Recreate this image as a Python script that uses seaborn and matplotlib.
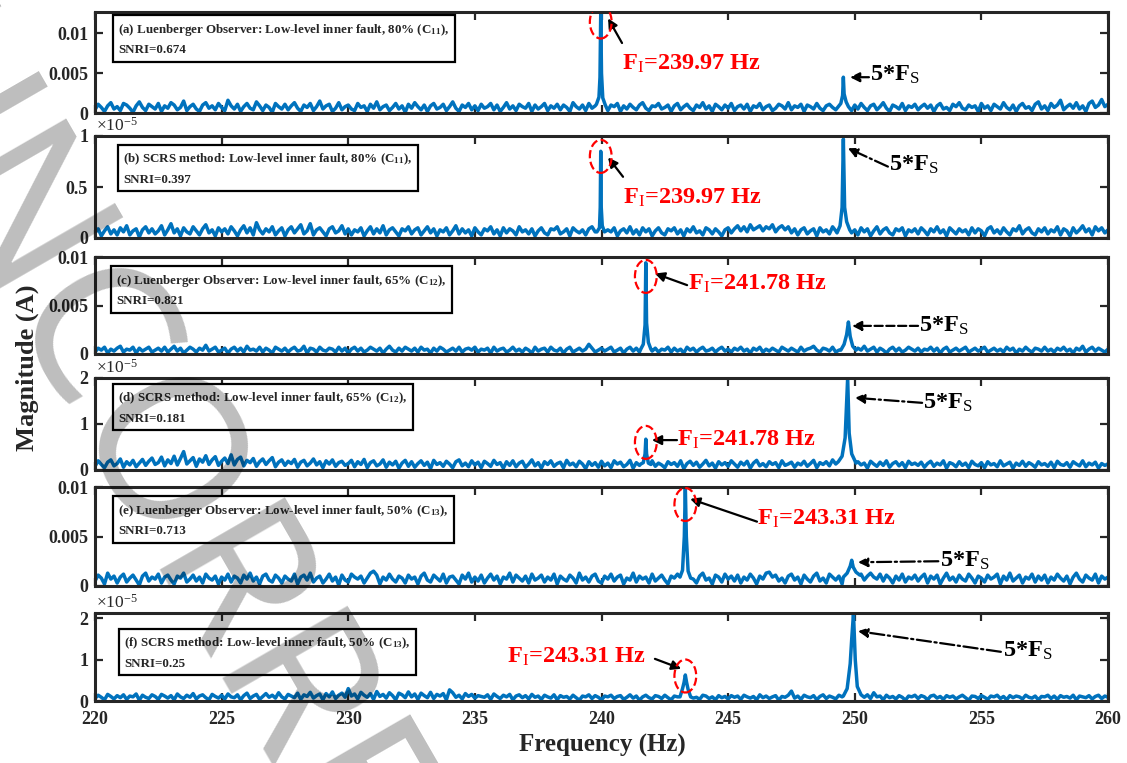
import numpy as np
import seaborn as sns
import matplotlib.pyplot as plt
from matplotlib.patches import Ellipse
from matplotlib.transforms import offset_copy

# ---- data ----
freq_start, freq_end = 220, 260

titles = ['(a) Luenberger Observer: Low-level inner fault, 80% (C$_{11}$),',
          '(b) SCRS method: Low-level inner fault, 80% (C$_{11}$),',
          '(c) Luenberger Observer: Low-level inner fault, 65% (C$_{12}$),',
          '(d) SCRS method: Low-level inner fault, 65% (C$_{12}$),',
          '(e) Luenberger Observer: Low-level inner fault, 50% (C$_{13}$),',
          '(f) SCRS method: Low-level inner fault, 50% (C$_{13}$),']
snri = ['0.674', '0.397', '0.821', '0.181', '0.713', '0.25']
fault_labels = ['239.97', '239.97', '241.78', '241.78', '243.31', '243.31']

# (a) Luenberger, 80 %  -- noise floor in 1e-4 A, 0.125 Hz steps
a_noise = [4, 11, 7, 2, 9, 13, 5, 8, 3, 12, 10, 6, 1, 9, 14, 7, 3, 11, 8, 5,
           12, 2, 9, 6, 13, 10, 4, 7, 15, 3, 8, 11, 5, 2, 10, 13, 6, 9, 4, 12,
           7, 3, 16, 9, 5, 11, 2, 8, 12, 6, 4, 14, 9, 3, 10, 7, 1, 12, 8, 5,
           11, 4, 9, 13, 6, 2, 10, 7, 12, 3, 8, 15, 5, 9, 11, 2, 6, 13, 4, 8,
           10, 5, 3, 12, 7, 9, 2, 11, 6, 14, 4, 8, 10, 3, 7, 12, 5, 9, 1, 11,
           6, 13, 8, 4, 10, 2, 9, 12, 5, 7, 11, 3, 8, 14, 6, 2, 10, 7, 12, 4,
           9, 3, 11, 6, 8, 12, 4, 10, 2, 7, 13, 5, 9, 3, 11, 8, 6, 12, 2, 10,
           5, 8, 12, 3, 9, 6, 11, 4, 10, 7, 2, 13, 8, 5, 10, 3, 12, 6, 9, 4,
           11, 6, 3, 10, 8, 12, 2, 9, 5, 11, 7, 4, 10, 13, 6, 3, 9, 8, 12, 5,
           7, 10, 2, 9, 12, 4, 8, 11, 6, 3, 10, 7, 13, 5, 9, 2, 11, 8, 4, 10,
           6, 12, 3, 8, 10, 5, 11, 2, 9, 7, 12, 4, 8, 10, 3, 6, 11, 9, 5, 13,
           4, 9, 7, 11, 2, 10, 8, 5, 12, 6, 3, 9, 11, 7, 4, 10, 13, 6, 8, 3,
           10, 5, 12, 7, 3, 9, 11, 4, 8, 13, 6, 2, 10, 8, 5, 12, 3, 9, 7, 11,
           4, 8, 11, 6, 10, 2, 9, 12, 5, 7, 3, 11, 8, 13, 6, 4, 10, 7, 9, 2,
           12, 6, 9, 3, 11, 8, 5, 13, 7, 4, 10, 2, 9, 12, 6, 8, 3, 11, 14, 5,
           9, 3, 12, 7, 10, 16, 4, 8, 11, 6, 13, 5, 9, 2, 12, 15, 7, 10, 17, 8,
           11]
a_fault_f = [239.80, 239.90, 239.94, 239.97, 240.00, 240.05, 240.15]
a_fault_v = [0.0011, 0.0020, 0.0045, 0.0127, 0.0050, 0.0019, 0.0010]
a_fs_f = [249.35, 249.45, 249.52, 249.55, 249.58, 249.66, 249.75]
a_fs_v = [0.0008, 0.0012, 0.0022, 0.0045, 0.0024, 0.0014, 0.0008]

# (b) SCRS, 80 %  -- noise floor in 0.01 x 1e-5
b_noise = [5, 9, 2, 7, 11, 4, 8, 3, 10, 6, 12, 3, 7, 9, 1, 8, 11, 5, 9, 4,
           7, 12, 3, 8, 14, 5, 9, 2, 10, 6, 4, 11, 7, 3, 9, 13, 5, 8, 2, 10,
           6, 9, 4, 11, 7, 2, 8, 12, 5, 10, 3, 15, 8, 4, 9, 6, 11, 3, 7, 10,
           2, 8, 11, 5, 9, 13, 4, 7, 14, 3, 8, 10, 6, 2, 9, 11, 5, 7, 12, 4,
           9, 3, 8, 6, 10, 2, 7, 11, 4, 9, 5, 12, 3, 8, 10, 6, 2, 9, 7, 11,
           4, 8, 10, 3, 7, 11, 5, 9, 2, 8, 6, 10, 3, 7, 12, 4, 9, 5, 8, 2,
           10, 6, 3, 9, 7, 11, 4, 8, 2, 10, 5, 9, 7, 3, 11, 6, 8, 4, 9, 2,
           7, 10, 5, 3, 9, 8, 11, 4, 6, 9, 2, 10, 7, 5, 8, 3, 9, 11, 6, 4,
           9, 3, 8, 6, 10, 2, 7, 9, 5, 11, 4, 8, 3, 10, 6, 9, 2, 7, 10, 5,
           3, 9, 7, 10, 4, 8, 2, 9, 6, 11, 5, 7, 3, 10, 8, 4, 9, 6, 2, 8,
           10, 5, 9, 12, 7, 11, 6, 13, 8, 10, 12, 7, 11, 9, 13, 6, 10, 12, 8, 11,
           5, 9, 3, 8, 10, 4, 7, 9, 2, 10, 6, 8, 4, 11, 7, 3, 9, 6, 10, 5,
           8, 3, 10, 6, 9, 2, 7, 11, 4, 8, 10, 5, 3, 9, 7, 10, 2, 8, 6, 9,
           4, 10, 7, 3, 9, 6, 11, 5, 8, 2, 10, 7, 4, 9, 6, 8, 3, 10, 5, 9,
           7, 2, 9, 11, 5, 8, 4, 10, 6, 3, 9, 7, 12, 4, 8, 10, 5, 3, 9, 6,
           10, 4, 8, 6, 11, 3, 9, 7, 2, 10, 5, 8, 12, 6, 9, 3, 11, 7, 10, 5,
           8]
b_fault_f = [239.82, 239.92, 239.95, 239.97, 239.99, 240.03, 240.12]
b_fault_v = [0.06, 0.10, 0.30, 0.85, 0.30, 0.12, 0.06]
b_fs_f = [249.30, 249.42, 249.50, 249.55, 249.60, 249.68, 249.80]
b_fs_v = [0.05, 0.12, 0.30, 0.97, 0.30, 0.16, 0.08]

# (c) Luenberger, 65 %  -- noise floor in 1e-4 A
c_noise = [2, 6, 4, 7, 1, 5, 3, 6, 8, 2, 5, 4, 7, 1, 6, 3, 5, 7, 2, 4,
           6, 3, 7, 2, 5, 8, 3, 6, 1, 4, 7, 5, 2, 6, 4, 9, 3, 5, 7, 2,
           4, 6, 1, 5, 7, 3, 6, 2, 8, 4, 5, 3, 7, 2, 6, 4, 1, 7, 5, 3,
           6, 2, 5, 7, 3, 4, 8, 1, 6, 5, 2, 7, 4, 3, 6, 5, 2, 7, 3, 6,
           1, 5, 7, 3, 6, 2, 4, 7, 5, 3, 6, 1, 5, 8, 4, 2, 6, 3, 7, 5,
           3, 6, 2, 7, 4, 5, 1, 6, 3, 7, 5, 2, 4, 6, 3, 7, 2, 5, 6, 4,
           7, 2, 5, 4, 6, 1, 7, 3, 5, 6, 2, 4, 7, 3, 5, 2, 6, 4, 1, 7,
           3, 5, 6, 2, 7, 4, 3, 6, 1, 5, 7, 2, 4, 6, 3, 5, 10, 6, 2, 4,
           6, 3, 5, 7, 2, 4, 6, 1, 5, 7, 3, 6, 2, 4, 7, 5, 3, 6, 2, 5,
           4, 7, 2, 6, 3, 5, 1, 7, 4, 6, 2, 5, 7, 3, 4, 6, 2, 5, 7, 3,
           5, 2, 6, 4, 7, 3, 5, 1, 6, 4, 7, 2, 5, 3, 6, 4, 2, 7, 5, 3,
           6, 4, 2, 7, 3, 5, 6, 8, 4, 2, 6, 5, 3, 7, 2, 4, 6, 3, 5, 7,
           2, 6, 4, 8, 3, 5, 7, 2, 6, 4, 1, 5, 7, 3, 6, 2, 4, 7, 5, 3,
           6, 2, 5, 4, 7, 3, 6, 1, 5, 7, 2, 4, 6, 3, 5, 7, 2, 4, 6, 3,
           5, 7, 2, 4, 6, 3, 5, 2, 7, 4, 6, 1, 5, 3, 7, 4, 2, 6, 5, 3,
           7, 3, 5, 2, 6, 4, 7, 3, 5, 1, 6, 4, 8, 2, 5, 7, 3, 6, 4, 2,
           5]
c_fault_f = [241.55, 241.65, 241.72, 241.75, 241.78, 241.85, 241.95]
c_fault_v = [0.0005, 0.0010, 0.0030, 0.0094, 0.0032, 0.0012, 0.0005]
c_fs_f = [249.45, 249.58, 249.68, 249.75, 249.82, 249.92, 250.05]
c_fs_v = [0.0004, 0.0010, 0.0020, 0.0033, 0.0018, 0.0008, 0.0004]

# (d) SCRS, 65 %  -- noise floor in 0.01 x 1e-5
d_noise = [8, 20, 12, 5, 17, 22, 9, 14, 24, 6, 18, 11, 21, 7, 15, 23, 10, 19, 26, 12,
           16, 28, 9, 22, 14, 30, 11, 25, 40, 13, 20, 27, 8, 24, 17, 31, 12, 22, 29, 10,
           19, 26, 14, 33, 11, 23, 28, 9, 21, 16, 25, 8, 18, 24, 12, 20, 27, 7, 17, 22,
           10, 19, 14, 23, 6, 17, 21, 9, 15, 24, 11, 18, 5, 20, 13, 22, 8, 16, 19, 10,
           14, 21, 7, 18, 12, 23, 5, 16, 20, 9, 13, 22, 6, 17, 11, 19, 4, 15, 21, 8,
           18, 6, 14, 20, 10, 17, 3, 21, 12, 16, 8, 19, 13, 5, 18, 22, 9, 15, 7, 20,
           11, 17, 5, 19, 14, 8, 21, 12, 16, 4, 18, 10, 20, 7, 15, 19, 6, 13, 22, 9,
           16, 4, 18, 12, 20, 8, 14, 17, 5, 21, 11, 15, 7, 19, 13, 3, 18, 10, 16, 6,
           19, 9, 15, 5, 20, 13, 17, 7, 12, 21, 4, 16, 10, 18, 6, 14, 20, 8, 15, 11,
           5, 18, 12, 16, 8, 20, 3, 14, 19, 10, 17, 6, 13, 21, 9, 15, 4, 18, 11, 16,
           8, 20, 13, 6, 17, 11, 19, 4, 15, 21, 9, 14, 7, 18, 12, 16, 5, 20, 10, 13,
           17, 6, 15, 11, 19, 8, 14, 21, 5, 16, 12, 18, 9, 22, 13, 17, 24, 11, 19, 15,
           7, 18, 11, 15, 4, 19, 13, 8, 17, 10, 20, 6, 14, 18, 9, 16, 5, 19, 12, 15,
           10, 17, 6, 14, 19, 8, 15, 11, 20, 4, 16, 13, 7, 18, 10, 15, 5, 19, 12, 9,
           16, 5, 18, 11, 14, 7, 20, 9, 13, 17, 4, 15, 10, 19, 8, 16, 12, 6, 18, 11,
           14, 8, 17, 5, 19, 12, 10, 16, 6, 18, 13, 9, 20, 7, 15, 11, 17, 4, 14, 10,
           13]
d_fault_f = [241.55, 241.65, 241.72, 241.75, 241.78, 241.85, 241.95]
d_fault_v = [0.13, 0.16, 0.35, 0.67, 0.35, 0.15, 0.12]
d_fs_f = [249.35, 249.50, 249.62, 249.67, 249.72, 249.78, 249.88, 250.05]
d_fs_v = [0.18, 0.30, 0.70, 1.35, 2.00, 0.80, 0.35, 0.15]

# (e) Luenberger, 50 %  -- noise floor in 1e-4 A
e_noise = [5, 11, 8, 2, 13, 7, 10, 3, 9, 12, 4, 8, 11, 6, 1, 10, 13, 5, 9, 7,
           12, 3, 9, 11, 6, 2, 10, 8, 13, 4, 7, 11, 5, 9, 3, 12, 8, 6, 10, 2,
           9, 6, 12, 4, 10, 8, 3, 11, 7, 13, 5, 9, 2, 10, 12, 6, 4, 11, 8, 3,
           10, 7, 5, 12, 2, 9, 11, 6, 13, 4, 8, 10, 3, 7, 12, 5, 9, 1, 11, 6,
           4, 12, 9, 7, 10, 3, 8, 13, 15, 11, 2, 9, 6, 12, 7, 4, 10, 8, 3, 11,
           7, 9, 2, 10, 13, 6, 4, 11, 8, 5, 12, 3, 9, 10, 6, 2, 11, 7, 13, 4,
           9, 5, 11, 3, 8, 12, 6, 10, 2, 9, 7, 13, 4, 11, 8, 5, 10, 3, 12, 6,
           8, 11, 4, 9, 6, 12, 2, 10, 7, 5, 11, 8, 3, 13, 6, 9, 4, 10, 12, 5,
           3, 10, 7, 12, 5, 9, 11, 2, 8, 6, 13, 4, 10, 7, 9, 3, 12, 5, 8, 11,
           6, 2, 10, 8, 12, 4, 9, 11, 5, 7, 3, 10, 13, 6, 8, 2, 11, 9, 4, 12,
           7, 10, 5, 11, 3, 9, 6, 12, 8, 2, 10, 7, 13, 14, 9, 11, 5, 8, 3, 10,
           12, 6, 9, 2, 11, 7, 4, 10, 13, 5, 8, 3, 12, 9, 6, 10, 2, 11, 7, 9,
           11, 8, 12, 6, 10, 13, 9, 7, 12, 5, 11, 8, 3, 10, 6, 12, 4, 9, 7, 11,
           5, 9, 12, 3, 10, 7, 11, 2, 8, 13, 6, 9, 4, 11, 7, 5, 12, 8, 3, 10,
           8, 4, 11, 7, 9, 12, 2, 10, 6, 13, 5, 8, 11, 3, 9, 7, 12, 4, 10, 6,
           11, 3, 9, 6, 12, 8, 5, 10, 2, 9, 13, 7, 4, 11, 8, 6, 12, 3, 10, 7,
           9]
e_fault_f = [243.10, 243.20, 243.27, 243.31, 243.35, 243.42, 243.52]
e_fault_v = [0.0009, 0.0016, 0.0050, 0.0100, 0.0050, 0.0015, 0.0008]
e_fs_f = [249.55, 249.70, 249.82, 249.88, 249.94, 250.05, 250.20]
e_fs_v = [0.0009, 0.0013, 0.0020, 0.0026, 0.0019, 0.0014, 0.0011]

# (f) SCRS, 50 %  -- noise floor in 0.01 x 1e-5
f_noise = [6, 14, 9, 3, 16, 11, 5, 13, 8, 15, 4, 12, 10, 17, 2, 14, 9, 6, 15, 11,
           4, 16, 12, 7, 13, 3, 17, 10, 6, 14, 9, 18, 5, 12, 15, 8, 3, 16, 11, 7,
           14, 5, 17, 10, 8, 15, 3, 13, 19, 6, 12, 16, 4, 11, 18, 9, 14, 7, 20, 10,
           5, 16, 12, 8, 19, 4, 15, 11, 21, 7, 13, 17, 3, 18, 10, 22, 6, 14, 19, 9,
           30, 12, 17, 5, 21, 14, 9, 18, 4, 23, 11, 16, 7, 20, 13, 3, 19, 15, 8, 22,
           10, 17, 4, 19, 13, 8, 21, 6, 16, 12, 18, 3, 27, 20, 9, 14, 5, 18, 11, 16,
           7, 13, 11, 9, 15, 4, 17, 11, 6, 14, 10, 16, 3, 12, 15, 8, 13, 5, 16, 9,
           12, 4, 14, 10, 7, 15, 3, 13, 9, 11, 5, 14, 8, 2, 12, 10, 15, 6, 13, 9,
           3, 12, 10, 14, 6, 11, 13, 4, 9, 15, 7, 12, 2, 10, 14, 8, 5, 13, 11, 6,
           14, 8, 3, 12, 10, 13, 5, 11, 15, 7, 9, 4, 14, 12, 6, 10, 3, 13, 8, 11,
           5, 13, 9, 12, 4, 14, 10, 7, 11, 3, 15, 8, 12, 6, 10, 13, 2, 11, 9, 14,
           24, 7, 12, 4, 14, 10, 8, 13, 3, 11, 15, 6, 12, 9, 5, 14, 10, 13, 7, 16,
           11, 4, 13, 9, 15, 6, 20, 10, 12, 3, 14, 8, 11, 5, 13, 9, 2, 12, 10, 14,
           6, 13, 10, 3, 12, 14, 7, 11, 4, 13, 9, 12, 5, 10, 14, 8, 2, 12, 11, 6,
           13, 9, 4, 12, 10, 14, 6, 11, 3, 13, 8, 12, 10, 5, 14, 9, 7, 12, 3, 11,
           10, 14, 6, 12, 4, 13, 9, 11, 7, 14, 3, 12, 10, 8, 13, 5, 11, 14, 6, 12,
           9]
f_fault_f = [243.10, 243.20, 243.26, 243.31, 243.36, 243.42, 243.52]
f_fault_v = [0.10, 0.30, 0.45, 0.63, 0.45, 0.28, 0.10]
f_fs_f = [249.55, 249.70, 249.82, 249.88, 249.95, 250.02, 250.10, 250.25]
f_fs_v = [0.12, 0.30, 0.90, 1.50, 2.12, 1.00, 0.35, 0.15]

noise_lists = [a_noise, b_noise, c_noise, d_noise, e_noise, f_noise]
noise_units = [1e-4, 0.01, 1e-4, 0.01, 1e-4, 0.01]
fault_f = [a_fault_f, b_fault_f, c_fault_f, d_fault_f, e_fault_f, f_fault_f]
fault_v = [a_fault_v, b_fault_v, c_fault_v, d_fault_v, e_fault_v, f_fault_v]
fs_f = [a_fs_f, b_fs_f, c_fs_f, d_fs_f, e_fs_f, f_fs_f]
fs_v = [a_fs_v, b_fs_v, c_fs_v, d_fs_v, e_fs_v, f_fs_v]
y_max = [0.0127, 1.0, 0.01, 2.0, 0.01, 2.13]
y_ticks = [[0, 0.005, 0.01], [0, 0.5, 1], [0, 0.005, 0.01],
           [0, 1, 2], [0, 0.005, 0.01], [0, 1, 2]]
times_1e5 = [False, True, False, True, False, True]

# ---- layout (pixels of the 1127x763 picture) ----
W, H = 1127, 763
AX_LEFT, AX_RIGHT = 95, 1108
ax_top = [12, 136, 257, 378, 487, 613]
ax_bottom = [113, 238, 354, 470, 586, 701]
box_top = [4, 10, 10, 7, 10, 17]
box_left = [17, 22, 15, 17, 17, 23]
# ellipse centre height, arrow head/tail, label anchor (data units)
ell_y = [0.01144, 0.80, 0.0080, 0.60, 0.00823, 0.605]
fault_head = [(240.26, 0.0119), (240.26, 0.79), (242.11, 0.0083),
              (241.99, 0.65), (243.50, 0.0088), (243.15, 0.78)]
fault_tail = [(240.81, 0.0088), (240.85, 0.60), (243.38, 0.0071),
              (242.98, 0.65), (246.14, 0.0065), (242.11, 1.02)]
fault_txt = [(240.81, 0.0055), (240.85, 0.34), (243.40, 0.0066),
             (243.00, 0.53), (246.14, 0.0062), (236.25, 0.93)]
fs_head = [(249.81, 0.0045), (249.73, 0.88), (249.89, 0.0029),
           (250.01, 1.57), (250.13, 0.0024), (250.13, 1.69)]
fs_tail = [(250.56, 0.0045), (251.31, 0.70), (252.50, 0.0029),
           (252.66, 1.46), (253.30, 0.0025), (255.77, 1.19)]
fs_txt = [(250.62, 0.0040), (251.36, 0.66), (252.55, 0.0023),
          (252.70, 1.33), (253.35, 0.0019), (255.85, 1.07)]
fs_style = ['--', '-.', '--', '-.', '-.', '-.']

BLUE = '#0072BD'
INK = '#262626'
FONT = 'Liberation Serif'


def build_series(noise, unit, pf_list, pv_list):
    freq = np.linspace(freq_start, freq_end, len(noise))
    vals = np.array(noise, dtype=float) * unit
    keep = np.ones(len(freq), dtype=bool)
    for pf in pf_list:
        keep &= ~((freq >= min(pf) - 0.01) & (freq <= max(pf) + 0.01))
    f_all = np.concatenate([freq[keep]] + [np.array(p) for p in pf_list])
    v_all = np.concatenate([vals[keep]] + [np.array(p) for p in pv_list])
    order = np.argsort(f_all)
    return f_all[order], v_all[order]


def draw_panel(fig, i):
    top, bottom = ax_top[i], ax_bottom[i]
    ax = fig.add_axes([AX_LEFT / W, 1 - bottom / H, (AX_RIGHT - AX_LEFT) / W, (bottom - top) / H])
    x, y = build_series(noise_lists[i], noise_units[i], [fault_f[i], fs_f[i]], [fault_v[i], fs_v[i]])
    sns.lineplot(x=x, y=y, ax=ax, color=BLUE, linewidth=2.5, estimator=None, errorbar=None)
    ax.set_xlim(freq_start, freq_end)
    ax.set_ylim(0, y_max[i])
    ax.set_xticks(range(220, 261, 5))
    ax.set_yticks(y_ticks[i])
    ax.set_yticklabels(['%g' % t for t in y_ticks[i]])
    if i < 5:
        ax.set_xticklabels([])
    ax.set_xlabel('')
    ax.set_ylabel('')
    ax.tick_params(direction='in', length=6, width=1.6, top=True, right=True,
                   labelsize=13, colors=INK)
    ax.tick_params(axis='x', pad=7)
    ax.tick_params(axis='y', pad=5)
    for lab in ax.get_xticklabels() + ax.get_yticklabels():
        lab.set_fontweight('bold')
    for s in ax.spines.values():
        s.set_linewidth(2.2)
        s.set_color(INK)

    # description box
    tr = offset_copy(ax.transAxes, fig=fig, x=box_left[i] + 6, y=-(box_top[i] + 6), units='dots')
    ax.text(0, 1, titles[i] + '\nSNRI=' + snri[i], transform=tr, ha='left', va='top',
            fontsize=9.4, fontweight='bold', linespacing=1.7, zorder=5,
            bbox=dict(boxstyle='square,pad=0.42', fc='white', ec='black', lw=1.6))

    if times_1e5[i]:
        tr2 = offset_copy(ax.transAxes, fig=fig, x=1, y=1, units='dots')
        ax.text(0, 1, r'$\mathrm{\times 10^{-5}}$', transform=tr2, ha='left', va='bottom',
                fontsize=12.5, color=INK)

    # fault frequency marker
    centre = fault_f[i][fault_v[i].index(max(fault_v[i]))]
    ell_h = 33 / (bottom - top) * y_max[i]
    ax.add_patch(Ellipse((centre, ell_y[i]), 0.86, ell_h, fill=False, ec='red', ls='--', lw=1.6, zorder=4))
    ax.annotate('', xy=fault_head[i], xytext=fault_tail[i],
                arrowprops=dict(arrowstyle='-|>', color='black', lw=1.6, mutation_scale=14,
                                shrinkA=0, shrinkB=0))
    ax.text(fault_txt[i][0], fault_txt[i][1], r'F$_{\mathrm{I}}$=' + fault_labels[i] + ' Hz',
            color='red', fontsize=17.5, fontweight='bold', ha='left', va='baseline')

    # 5*Fs marker
    ax.annotate('', xy=fs_head[i], xytext=fs_tail[i],
                arrowprops=dict(arrowstyle='-|>', color='black', lw=1.6, mutation_scale=14,
                                shrinkA=0, shrinkB=0, linestyle=fs_style[i]))
    ax.text(fs_txt[i][0], fs_txt[i][1], r'5*F$_{\mathrm{S}}$', color='black', fontsize=17.5,
            fontweight='bold', ha='left', va='baseline')
    return ax


def plot_figure():
    sns.set_style('ticks')
    plt.rcParams['font.family'] = [FONT, 'DejaVu Sans']
    plt.rcParams['mathtext.fontset'] = 'custom'
    plt.rcParams['mathtext.rm'] = FONT
    plt.rcParams['mathtext.bf'] = FONT + ':bold'
    plt.rcParams['mathtext.it'] = FONT + ':italic:bold'
    plt.rcParams['mathtext.default'] = 'bf'
    fig = plt.figure(figsize=(W / 100, H / 100), dpi=100)
    for i in range(6):
        draw_panel(fig, i)
    fig.text(27 / W, 1 - 368 / H, 'Magnitude (A)', rotation=90, fontsize=19, fontweight='bold',
             ha='center', va='center', color=INK)
    fig.text(602 / W, 1 - 745 / H, 'Frequency (Hz)', fontsize=18, fontweight='bold',
             ha='center', va='center', color=INK)
    # proof watermark running down from the top-left corner
    fig.text(-151 / W, 1 - 62 / H, 'UNCORRECTED', rotation=-60, rotation_mode='anchor',
             fontsize=145, family='Noto Sans', fontweight='light', color='black', alpha=0.26,
             ha='left', va='baseline', zorder=20)
    fig.savefig('out.png', dpi=100)


if __name__ == '__main__':
    plot_figure()
